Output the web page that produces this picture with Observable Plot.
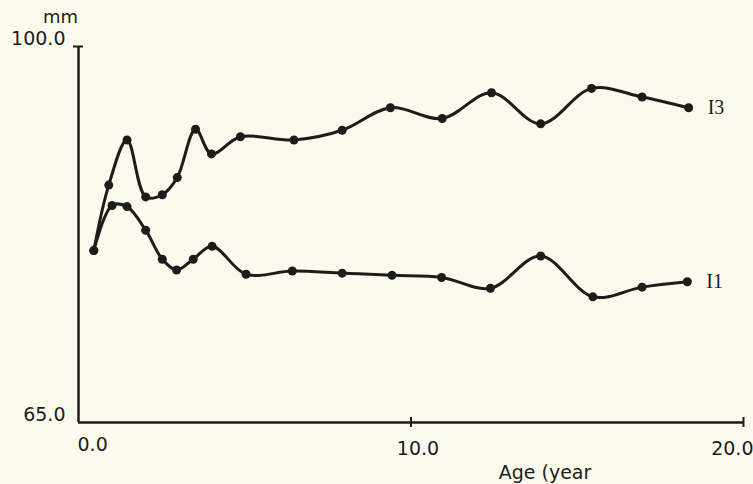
<!DOCTYPE html>
<html><head><meta charset="utf-8">
<script src="https://cdn.jsdelivr.net/npm/d3@7"></script>
<script src="https://cdn.jsdelivr.net/npm/@observablehq/plot@0.6"></script>
<style>
html,body{margin:0;padding:0;background:#fcfaec;}
</style></head><body><div id="chart"></div>
<script>
const agesI3 = [0.46, 0.91, 1.46, 2.02, 2.52, 2.97, 3.52, 4.0, 4.87, 6.48, 7.93, 9.38, 10.94, 12.42, 13.90, 15.43, 16.95, 18.35];
const valuesI3 = [81.0, 87.1, 91.3, 86.0, 86.2, 87.8, 92.3, 90.0, 91.6, 91.3, 92.2, 94.3, 93.3, 95.7, 92.8, 96.1, 95.3, 94.3];
const agesI1 = [0.46, 1.01, 1.46, 2.02, 2.52, 2.95, 3.45, 4.02, 5.04, 6.43, 7.93, 9.43, 10.92, 12.39, 13.90, 15.47, 16.95, 18.31];
const valuesI1 = [81.0, 85.2, 85.1, 82.9, 80.2, 79.2, 80.2, 81.4, 78.8, 79.1, 78.9, 78.7, 78.5, 77.5, 80.5, 76.7, 77.6, 78.1];
const seriesNames = ["I3", "I1"];
const xTicks = [0, 10, 20];
const yTicks = [65, 100];
const xLabel = "Age (year";
const yLabel = "mm";

const rows = [
  ...agesI3.map((a, i) => ({series: seriesNames[0], age: a, value: valuesI3[i]})),
  ...agesI1.map((a, i) => ({series: seriesNames[1], age: a, value: valuesI1[i]}))
];
const ink = "#1c1c1c";
const sans = "DejaVu Sans";
const fmt = d => d.toFixed(1);

const chart = Plot.plot({
  width: 753, height: 484,
  marginLeft: 78, marginRight: 10, marginTop: 46, marginBottom: 62,
  x: {domain: [xTicks[0], xTicks[2]], axis: null},
  y: {domain: [yTicks[0], yTicks[1]], axis: null},
  style: {background: "#fcfaec", color: ink, fontFamily: sans},
  marks: [
    Plot.ruleY([yTicks[0]], {stroke: ink, strokeWidth: 2.5}),
    Plot.ruleX([xTicks[0]], {stroke: ink, strokeWidth: 2.5}),
    Plot.ruleX(xTicks.slice(1), {x: d => d, y1: () => yTicks[0], y2: () => yTicks[0], insetTop: -5, insetBottom: -5, stroke: ink, strokeWidth: 2}),
    Plot.ruleY([yTicks[1]], {y: d => d, x1: () => xTicks[0], x2: () => xTicks[0], insetLeft: -5, insetRight: -5, stroke: ink, strokeWidth: 2}),
    Plot.text(yTicks, {y: d => d, frameAnchor: "left", textAnchor: "end", lineAnchor: "bottom", dx: -13, dy: -2, text: fmt, fontSize: 19, fill: ink}),
    Plot.text([xTicks[0]], {x: d => d, frameAnchor: "bottom", textAnchor: "start", lineAnchor: "top", dx: -1, dy: 15, text: fmt, fontSize: 19, fill: ink}),
    Plot.text([xTicks[1]], {x: d => d, frameAnchor: "bottom", textAnchor: "middle", lineAnchor: "top", dx: 7, dy: 19, text: fmt, fontSize: 19, fill: ink}),
    Plot.text([xTicks[2]], {x: d => d, frameAnchor: "bottom", textAnchor: "end", lineAnchor: "top", dx: 10, dy: 19, text: fmt, fontSize: 19, fill: ink}),
    Plot.text([xLabel], {frameAnchor: "bottom", textAnchor: "middle", lineAnchor: "bottom", dx: 134, dy: 56, text: d => d, fontSize: 19, fill: ink}),
    Plot.text([yLabel], {frameAnchor: "top-left", textAnchor: "middle", lineAnchor: "bottom", dx: -18, dy: -24, text: d => d, fontSize: 18, fill: ink}),
    Plot.line(rows, {x: "age", y: "value", z: "series", curve: "catmull-rom", stroke: ink, strokeWidth: 3}),
    Plot.dot(rows, {x: "age", y: "value", r: 4.5, fill: ink}),
    Plot.text(rows, Plot.selectLast({x: "age", y: "value", z: "series", text: "series", textAnchor: "start", dx: 19, fontFamily: "Liberation Serif", fontSize: 20, fill: ink}))
  ]
});
document.getElementById("chart").append(chart);
</script></body></html>
